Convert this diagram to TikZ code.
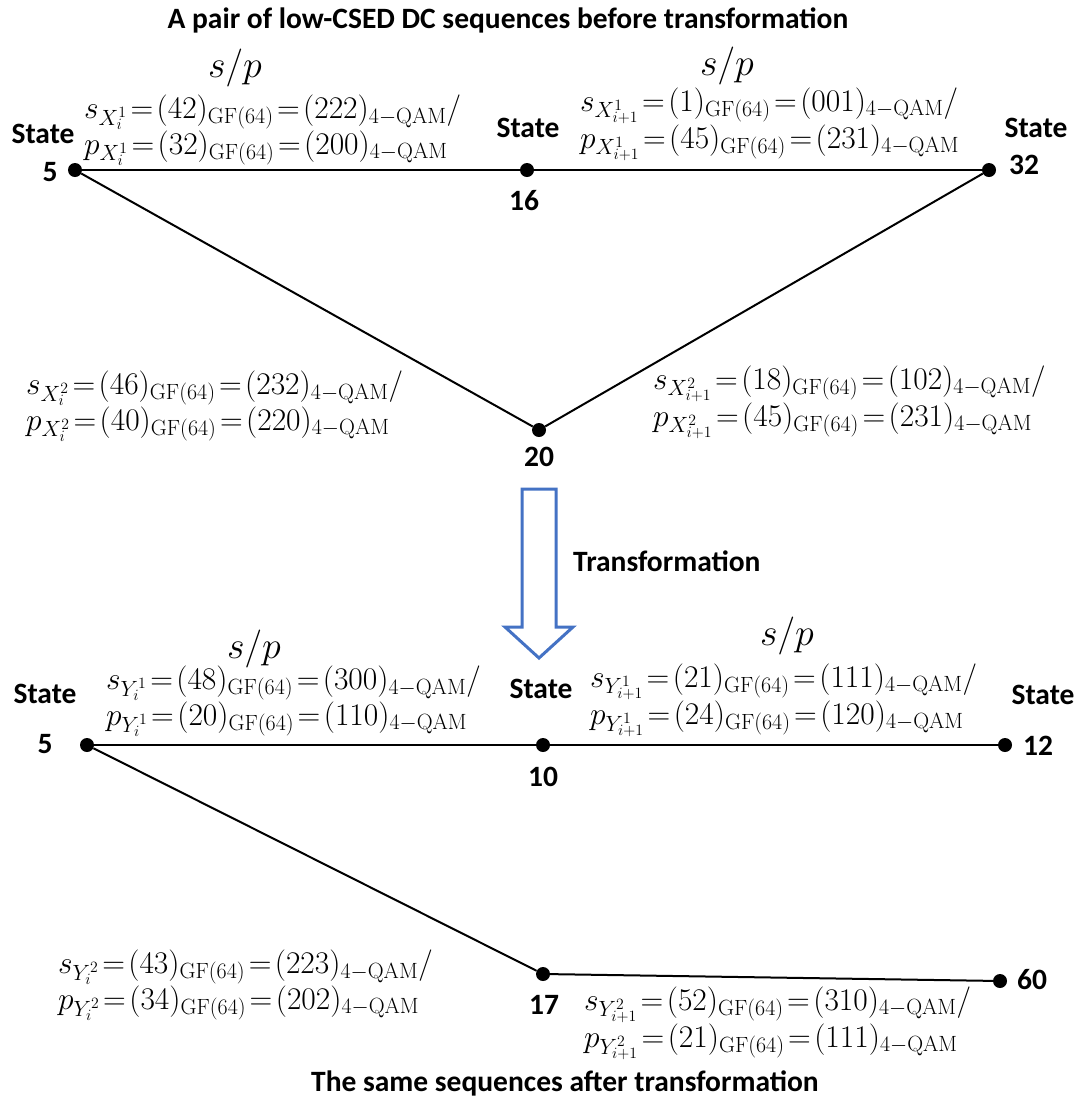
\RequirePackage{fix-cm}
\documentclass[tikz,border=0pt]{standalone}
\usepackage{fontspec}
\setsansfont{Carlito}
\definecolor{arrowblue}{RGB}{68,114,196}
\thickmuskip=2mu\relax
\begin{document}
\begin{tikzpicture}[x=1pt,y=-1pt,
  dot/.style={circle,fill=black,inner sep=0pt,minimum size=14pt},
  lbl/.style={font=\fontsize{29.5}{34}\selectfont\sffamily\bfseries,inner sep=0pt},
  eq/.style={font=\fontsize{31.5}{34}\selectfont,align=left,inner sep=0pt,anchor=west},
  sp/.style={font=\fontsize{38}{44}\selectfont,inner sep=0pt},
  edge/.style={line width=2pt}]
\useasboundingbox (0,0) rectangle (1078,1104);
% top diagram
\node[dot] (A) at (75,170) {};
\node[dot] (B) at (527,170) {};
\node[dot] (C) at (989,170) {};
\node[dot] (D) at (539,430) {};
\draw[edge] (A) -- (B);
\draw[edge] (B) -- (C);
\draw[edge] (A) -- (D);
\draw[edge] (D) -- (C);
\node[lbl] (t1) at (508,20) {A pair of low-CSED DC sequences before transformation};
\node[lbl] (sA) at (43,134) {State};
\node[lbl] (nA) at (50,172) {5};
\node[lbl] (sB) at (528,128) {State};
\node[lbl] (nB) at (524,201) {16};
\node[lbl] (sC) at (1036,128) {State};
\node[lbl] (nC) at (1024,165) {32};
\node[lbl] (nD) at (539,457) {20};
\node[sp] (sp1) at (235,68) {$s/p$};
\node[sp] (sp2) at (727,66) {$s/p$};
\node[eq] (e1) at (84,130) {$s_{X_i^1}=(42)_{\mathrm{GF}(64)}=(222)_{4-\mathrm{QAM}}/$\\$p_{X_i^1}=(32)_{\mathrm{GF}(64)}=(200)_{4-\mathrm{QAM}}$};
\node[eq] (e2) at (580,124) {$s_{X_{i+1}^1}=(1)_{\mathrm{GF}(64)}=(001)_{4-\mathrm{QAM}}/$\\$p_{X_{i+1}^1}=(45)_{\mathrm{GF}(64)}=(231)_{4-\mathrm{QAM}}$};
\node[eq] (e3) at (26,406) {$s_{X_i^2}=(46)_{\mathrm{GF}(64)}=(232)_{4-\mathrm{QAM}}/$\\$p_{X_i^2}=(40)_{\mathrm{GF}(64)}=(220)_{4-\mathrm{QAM}}$};
\node[eq] (e4) at (653,402) {$s_{X_{i+1}^2}=(18)_{\mathrm{GF}(64)}=(102)_{4-\mathrm{QAM}}/$\\$p_{X_{i+1}^2}=(45)_{\mathrm{GF}(64)}=(231)_{4-\mathrm{QAM}}$};
% arrow
\draw[arrowblue,line width=3pt,line join=miter]
  (522,489) -- (556,489) -- (556,627) -- (573,627) -- (539,658) -- (505,627) -- (522,627) -- cycle;
\node[lbl,anchor=west] (tr) at (573,561) {Transformation};
% bottom diagram
\node[dot] (E) at (87,745) {};
\node[dot] (F) at (543,745) {};
\node[dot] (G) at (1005,745) {};
\node[dot] (H) at (543,974) {};
\node[dot] (I) at (1000,981) {};
\draw[edge] (E) -- (F);
\draw[edge] (F) -- (G);
\draw[edge] (E) -- (H);
\draw[edge] (H) -- (I);
\node[lbl] (sE) at (45,694) {State};
\node[lbl] (nE) at (45,744) {5};
\node[lbl] (sF) at (541,689) {State};
\node[lbl] (nF) at (543,777) {10};
\node[lbl] (sG) at (1043,695) {State};
\node[lbl] (nG) at (1038,746) {12};
\node[lbl] (nH) at (544,1005) {17};
\node[lbl] (nI) at (1032,980) {60};
\node[sp] (sp3) at (254,649) {$s/p$};
\node[sp] (sp4) at (787,636) {$s/p$};
\node[eq] (e5) at (106,701) {$s_{Y_i^1}=(48)_{\mathrm{GF}(64)}=(300)_{4-\mathrm{QAM}}/$\\$p_{Y_i^1}=(20)_{\mathrm{GF}(64)}=(110)_{4-\mathrm{QAM}}$};
\node[eq] (e6) at (590,700) {$s_{Y_{i+1}^1}=(21)_{\mathrm{GF}(64)}=(111)_{4-\mathrm{QAM}}/$\\$p_{Y_{i+1}^1}=(24)_{\mathrm{GF}(64)}=(120)_{4-\mathrm{QAM}}$};
\node[eq] (e7) at (58,985) {$s_{Y_i^2}=(43)_{\mathrm{GF}(64)}=(223)_{4-\mathrm{QAM}}/$\\$p_{Y_i^2}=(34)_{\mathrm{GF}(64)}=(202)_{4-\mathrm{QAM}}$};
\node[eq] (e8) at (584,1023) {$s_{Y_{i+1}^2}=(52)_{\mathrm{GF}(64)}=(310)_{4-\mathrm{QAM}}/$\\$p_{Y_{i+1}^2}=(21)_{\mathrm{GF}(64)}=(111)_{4-\mathrm{QAM}}$};
\node[lbl] (t2) at (565,1083) {The same sequences after transformation};
\end{tikzpicture}
\end{document}
